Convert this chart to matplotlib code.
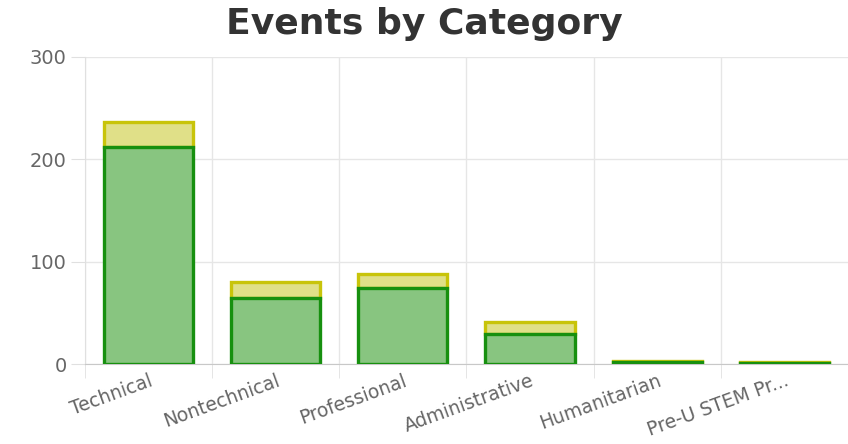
import numpy as np
import matplotlib
matplotlib.use('Agg')
import matplotlib.pyplot as plt

categories = ['Technical', 'Nontechnical', 'Professional', 'Administrative',
              'Humanitarian', 'Pre-U STEM Pr...']
green_vals = [212, 65, 74, 29, 2, 1]
yellow_vals = [24, 15, 14, 12, 1, 1]
y_ticks = [0, 100, 200, 300]

# the reference text is wide, DejaVu is the widest installed sans
plt.rcParams['font.family'] = ['DejaVu Sans']

fig = plt.figure(figsize=(8.48, 4.44), dpi=100)
ax = fig.add_axes([0.1, 0.18, 0.9, 0.692])

x = np.arange(len(categories))
ax.bar(x, green_vals, width=0.7, color='#88c580', edgecolor='#17900f', linewidth=2.4, zorder=3)
ax.bar(x, yellow_vals, bottom=green_vals, width=0.7, color='#e0e088',
       edgecolor='#c8c40a', linewidth=2.4, zorder=2)

ax.set_xlim(-0.5, len(categories) - 0.5)
ax.set_ylim(0, 300)
ax.set_yticks(y_ticks)
ax.set_yticklabels([str(v) for v in y_ticks], fontsize=14, color='#666666')
ax.tick_params(axis='y', length=10, color='#e0e0e0', pad=3)

# grid lines sit between categories, like chart.js offset grid
ax.set_xticks(x)
ax.set_xticks(np.arange(len(categories)) - 0.5, minor=True)
ax.set_xticklabels(categories, rotation=20, ha='right', rotation_mode='anchor',
                   fontsize=13.5, color='#666666')
ax.tick_params(axis='x', which='major', length=0, pad=5)
ax.tick_params(axis='x', which='minor', length=10, color='#e0e0e0')
ax.grid(axis='x', which='minor', color='#e6e6e6', linewidth=1, zorder=0)
ax.grid(axis='y', which='major', color='#e6e6e6', linewidth=1, zorder=0)

for side in ['top', 'right']:
    ax.spines[side].set_visible(False)
ax.spines['left'].set_color('#e0e0e0')
ax.spines['bottom'].set_color('#c8c8c8')

fig.suptitle('Events by Category', fontsize=26, fontweight='bold', color='#333333', y=0.985)

plt.savefig('out.png', dpi=100)
plt.close()
